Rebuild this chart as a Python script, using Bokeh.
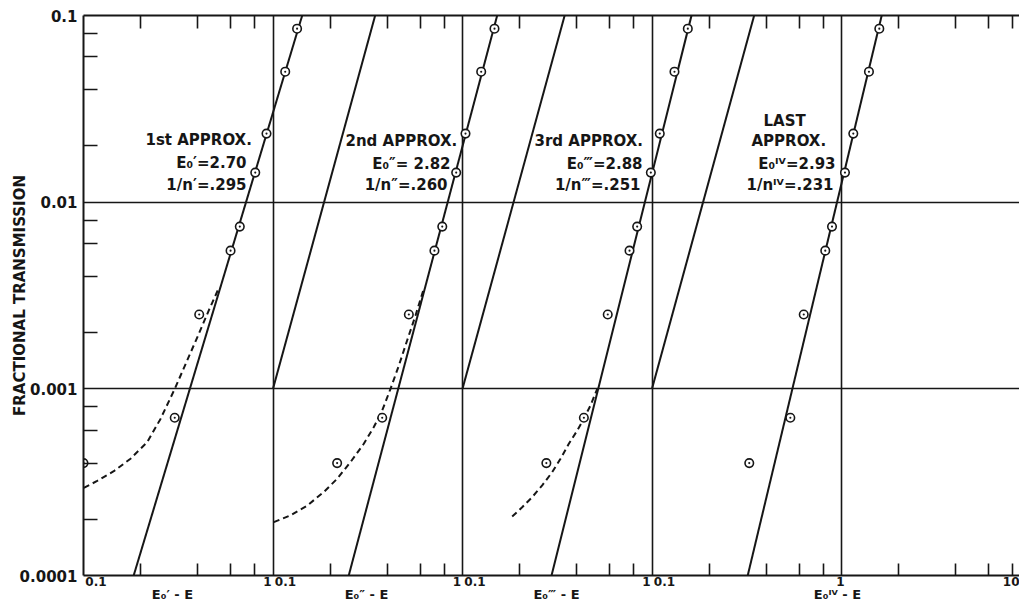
import math
from bokeh.plotting import figure
from bokeh.models import Range1d, LogScale, LogAxis, FixedTicker, Label
from bokeh.embed import file_html
from bokeh.resources import INLINE

# ---------------- data ----------------
# fractional transmission of the measured points (same points in every panel)
transmission = [0.085, 0.050, 0.0233, 0.0144, 0.0074, 0.0055, 0.0025, 0.00070, 0.00040]

# E0 - E for each approximation
x_first = [1.34, 1.16, 0.924, 0.806, 0.668, 0.597, 0.408, 0.303, 0.100]
x_second = [1.475, 1.255, 1.037, 0.926, 0.782, 0.711, 0.521, 0.377, 0.218]
x_third = [1.545, 1.314, 1.099, 0.986, 0.835, 0.761, 0.584, 0.437, 0.277]
x_last = [1.583, 1.396, 1.154, 1.043, 0.891, 0.821, 0.632, 0.537, 0.326]

# fitted straight lines (end points)
fit_first_x, fit_first_y = [0.184, 1.426], [0.0001, 0.1]
fit_second_x, fit_second_y = [0.251, 1.524], [0.0001, 0.1]
fit_third_x, fit_third_y = [0.295, 1.616], [0.0001, 0.1]
fit_last_x, fit_last_y = [0.320, 1.630], [0.0001, 0.1]

# steep reference line starting at (0.1, 0.001) in panels 2-4
ref_x, ref_y = [0.1, 0.346], [0.001, 0.1]

# dashed curves
dash_first_x = [0.1004, 0.1181, 0.1445, 0.177, 0.2168, 0.2549, 0.3032, 0.3525, 0.4059, 0.4583, 0.5113]
dash_first_y = [0.000295, 0.000321, 0.000362, 0.000422, 0.000518, 0.00069, 0.0010, 0.00142, 0.00197, 0.00263, 0.00337]
dash_second_x = [0.101, 0.1237, 0.1516, 0.1853, 0.2182, 0.2565, 0.3014, 0.3404, 0.377, 0.4169, 0.4612, 0.5107, 0.565, 0.6203]
dash_second_y = [0.000193, 0.00021, 0.000237, 0.00028, 0.00033, 0.000405, 0.000508, 0.000624, 0.000766, 0.0010, 0.00133, 0.00182, 0.00247, 0.00336]
dash_third_x = [0.1829, 0.2065, 0.2332, 0.2634, 0.2974, 0.329, 0.364, 0.403, 0.4367, 0.4736, 0.514]
dash_third_y = [0.000207, 0.000232, 0.000263, 0.000304, 0.000358, 0.000422, 0.000508, 0.000598, 0.000691, 0.000815, 0.0010]

y_tick_labels = {0.1: "0.1", 0.01: "0.01", 0.001: "0.001", 0.0001: "0.0001"}
x_titles = ["E₀′ - E", "E₀″ - E", "E₀‴ - E", "E₀ᴵⱽ - E"]

# ---------------- layout ----------------
W, H = 1019, 604
FL, FT, FB = 83, 15, 575
DEC_X = 189.5
DEC_Y = (FB - FT) / 3.0
x_end = 0.1 * 10 ** ((W - FL) / DEC_X)
INK = "#161616"
FONT = "DejaVu Sans"


def X2d(X):
    return float(f"{0.1 * 10 ** ((X - FL) / DEC_X):.6g}")


def Y2d(Y):
    return 0.1 * 10 ** (-(Y - FT) / DEC_Y)


p = figure(width=W, height=H, x_axis_type="log", y_axis_type="log",
           x_range=Range1d(0.1, x_end), y_range=Range1d(0.0001, 0.1),
           output_backend="svg", toolbar_location=None,
           min_border_left=FL, min_border_top=FT, min_border_bottom=H - FB,
           min_border_right=0)
p.outline_line_color = None
p.background_fill_color = "white"
p.border_fill_color = "white"

p.extra_x_ranges = {f"p{k}": Range1d(0.1 / 10 ** k, x_end / 10 ** k) for k in (1, 2, 3)}
p.extra_x_scales = {f"p{k}": LogScale() for k in (1, 2, 3)}

xt = [m * 10 ** k for k in range(5) for m in (0.2, 0.4, 0.6, 0.8)]

# bottom axis: tick marks (minor) + "0.1" / "1" labels (major, no marks)
bounds = [FL + k * DEC_X for k in range(5)]
xlab = {}
for b in bounds[:4]:
    xlab[X2d(b + 12.5)] = "0.1"
for b in bounds[1:4]:
    xlab[X2d(b - 5.5)] = "1"
xlab[X2d(bounds[4] - 1)] = "1"
xlab[X2d(W - 0.5)] = "10"

bx = p.below[0]
bx.ticker = FixedTicker(ticks=sorted(xlab.keys()), minor_ticks=xt)
bx.major_label_overrides = xlab
bx.major_tick_in = 0
bx.major_tick_out = 0
bx.minor_tick_in = 12
bx.minor_tick_out = 0
bx.major_label_standoff = 1
bx.major_label_text_font = FONT
bx.major_label_text_font_style = "bold"
bx.major_label_text_font_size = "12px"
bx.major_label_text_color = INK

top = LogAxis(ticker=FixedTicker(ticks=[], minor_ticks=xt))
p.add_layout(top, "above")
top.minor_tick_in = 13
top.minor_tick_out = 0

for ax in (bx, top):
    ax.axis_line_width = 2
    ax.axis_line_color = INK
    ax.minor_tick_line_width = 1.6
    ax.minor_tick_line_color = INK

# second bottom axis carrying the per-panel titles
centers = [X2d(X) for X in (172, 366, 556, 837)]
tx = LogAxis(ticker=FixedTicker(ticks=centers))
tx.major_label_overrides = dict(zip(centers, x_titles))
tx.axis_line_color = None
tx.major_tick_line_color = None
tx.minor_tick_line_color = None
tx.major_tick_in = 0
tx.major_tick_out = 0
tx.major_label_standoff = -2
tx.major_label_text_font = FONT
tx.major_label_text_font_style = "bold"
tx.major_label_text_font_size = "13px"
tx.major_label_text_color = INK
p.add_layout(tx, "below")

ya = p.left[0]
y_minor = [m * 10 ** k for k in (-4, -3, -2) for m in (2, 4, 6, 8)]
ya.ticker = FixedTicker(ticks=list(y_tick_labels.keys()), minor_ticks=y_minor)
ya.major_tick_in = 0
ya.major_tick_out = 0
ya.minor_tick_in = 14
ya.minor_tick_out = 0
ya.minor_tick_line_width = 1.6
ya.minor_tick_line_color = INK
ya.axis_line_width = 2
ya.axis_line_color = INK
ya.major_label_overrides = y_tick_labels
ya.major_label_standoff = 6
ya.major_label_text_font = FONT
ya.major_label_text_font_style = "bold"
ya.major_label_text_font_size = "15px"
ya.major_label_text_color = INK
ya.axis_label = "FRACTIONAL TRANSMISSION"
ya.axis_label_standoff = -12
ya.axis_label_text_font = FONT
ya.axis_label_text_font_style = "bold"
ya.axis_label_text_font_size = "15px"
ya.axis_label_text_color = INK

p.xgrid.ticker = FixedTicker(ticks=[1, 10, 100, 1000])
p.xgrid.grid_line_color = INK
p.xgrid.grid_line_width = 1.6
p.ygrid.ticker = FixedTicker(ticks=[0.001, 0.01])
p.ygrid.grid_line_color = INK
p.ygrid.grid_line_width = 1.6

panels = [
    ("default", x_first, fit_first_x, fit_first_y, False, dash_first_x, dash_first_y),
    ("p1", x_second, fit_second_x, fit_second_y, True, dash_second_x, dash_second_y),
    ("p2", x_third, fit_third_x, fit_third_y, True, dash_third_x, dash_third_y),
    ("p3", x_last, fit_last_x, fit_last_y, True, None, None),
]
for rn, xs, fx, fy, has_ref, dx, dy in panels:
    p.line(fx, fy, x_range_name=rn, line_color=INK, line_width=2)
    if has_ref:
        p.line(ref_x, ref_y, x_range_name=rn, line_color=INK, line_width=2)
    if dx is not None:
        p.line(dx, dy, x_range_name=rn, line_color=INK, line_width=2, line_dash="6 4")
    p.scatter(xs, transmission, x_range_name=rn, marker="circle_dot", size=8.5,
              fill_color="white", line_color=INK, line_width=1.6)

# panel annotations
notes = [
    (145, 139, "1st APPROX.", "left"), (246, 162, "E₀′=2.70", "right"), (246, 184, "1/n′=.295", "right"),
    (345, 140, "2nd APPROX.", "left"), (450, 163, "E₀″= 2.82", "right"), (447, 184, "1/n″=.260", "right"),
    (534, 140, "3rd APPROX.", "left"), (642, 163, "E₀‴=2.88", "right"), (640, 184, "1/n‴=.251", "right"),
    (763, 120, "LAST", "left"), (751, 140, "APPROX.", "left"),
    (835, 163, "E₀ᴵⱽ=2.93", "right"), (833, 184, "1/nᴵⱽ=.231", "right"),
]
for X, Y, t, a in notes:
    p.add_layout(Label(x=X2d(X), y=Y2d(Y), text=t, text_align=a, text_baseline="middle",
                       text_font=FONT, text_font_style="bold", text_font_size="15px",
                       text_color=INK))

open("out.html", "w").write(file_html(p, INLINE))
